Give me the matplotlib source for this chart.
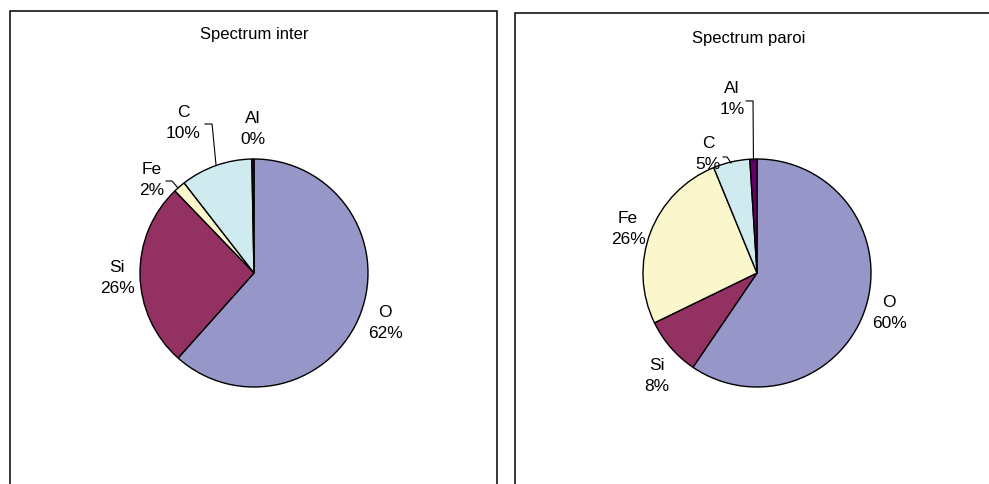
import matplotlib
matplotlib.use("Agg")
import matplotlib.pyplot as plt
from matplotlib.patches import Rectangle
from matplotlib.lines import Line2D

plt.rcParams['font.family'] = ['Liberation Sans', 'DejaVu Sans']

# ---- data ----
elements = ["O", "Si", "Fe", "C", "Al"]
inter_values = [61.6, 26.2, 1.7, 10.2, 0.3]
paroi_values = [59.5, 8.3, 26.0, 5.2, 1.0]
titles = ["Spectrum inter", "Spectrum paroi"]
colors = ["#9696C8", "#933262", "#FAF7CC", "#CFEBF0", "#660066"]

# ---- layout (pixels) ----
W, H = 989, 484
fig = plt.figure(figsize=(W / 100, H / 100), dpi=100)

def fx(px):
    return px / W

def fy(py):
    return 1 - py / H

# boxes
fig.add_artist(Rectangle((fx(10), fy(500)), fx(497) - fx(10), fy(11) - fy(500),
                         fill=False, edgecolor="black", linewidth=1.1,
                         transform=fig.transFigure))
fig.add_artist(Rectangle((fx(515), fy(500)), fx(1010) - fx(515), fy(13) - fy(500),
                         fill=False, edgecolor="black", linewidth=1.1,
                         transform=fig.transFigure))

centers = [(254, 273), (757, 273)]
radius = 114
title_pos = [(254, 34), (749, 38)]

label_pos = [
    [(1.15, -0.44), (-1.20, -0.04), (-0.90, 0.82), (-0.62, 1.32), (-0.01, 1.26)],
    [(1.16, -0.35), (-0.88, -0.90), (-1.13, 0.39), (-0.43, 1.04), (-0.22, 1.53)],
]
leaders = [
    [[(-0.43, 1.307), (-0.368, 1.307), (-0.333, 0.947)],
     [(-0.772, 0.807), (-0.719, 0.807), (-0.667, 0.746)]],
    [[(-0.298, 1.018), (-0.263, 1.018), (-0.228, 0.965)],
     [(-0.096, 1.509), (-0.035, 1.509), (-0.031, 0.974)]],
]

for i, vals in enumerate([inter_values, paroi_values]):
    cx, cy = centers[i]
    ax = fig.add_axes([fx(cx - radius), fy(cy + radius),
                       2 * radius / W, 2 * radius / H])
    ax.pie(vals, colors=colors, startangle=90, counterclock=False,
           wedgeprops=dict(edgecolor="black", linewidth=1.0))
    ax.set_xlim(-1, 1)
    ax.set_ylim(-1, 1)
    ax.set_aspect("equal")
    ax.axis("off")
    for name, v, (lx, ly) in zip(elements, vals, label_pos[i]):
        ax.text(lx, ly, f"{name}\n{round(v)}%", ha="center", va="center",
                fontsize=12.5, linespacing=1.5, clip_on=False)
    for pts in leaders[i]:
        xs = [p[0] for p in pts]
        ys = [p[1] for p in pts]
        ax.add_line(Line2D(xs, ys, color="black", linewidth=0.8, clip_on=False))
    tx, ty = title_pos[i]
    fig.text(fx(tx), fy(ty), titles[i], ha="center", va="center", fontsize=12)

fig.savefig("out.png", dpi=100)
